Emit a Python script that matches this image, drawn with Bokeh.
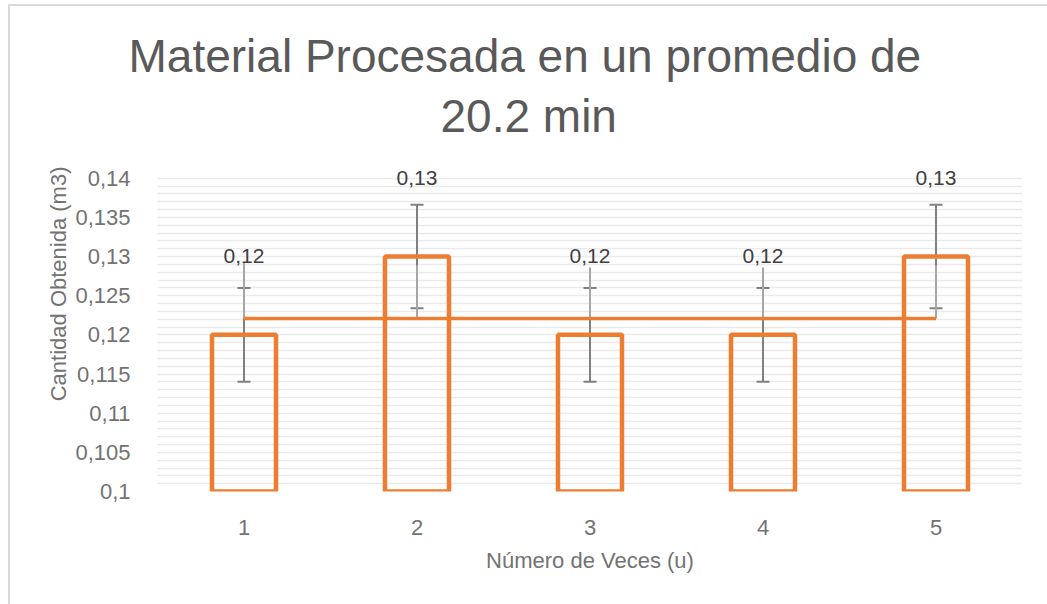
import numpy as np
from bokeh.plotting import figure
from bokeh.models import (ColumnDataSource, FixedTicker, Title, Whisker, TeeHead,
                          Range1d)
from bokeh.core.properties import value
from bokeh.embed import file_html
from bokeh.resources import INLINE

# ---- data ----
categories = [1, 2, 3, 4, 5]
cat_labels = ["1", "2", "3", "4", "5"]
values = [0.12, 0.13, 0.12, 0.12, 0.13]
err = [0.006, 0.0066, 0.006, 0.006, 0.0066]
avg_line = [0.1221, 0.1221, 0.1221, 0.1221, 0.1221]
avg_err_up = [0.0072, 0.0068, 0.0065, 0.0065, 0.0068]
data_labels = ["0,12", "0,13", "0,12", "0,12", "0,13"]
y_ticks = [0.1, 0.105, 0.11, 0.115, 0.12, 0.125, 0.13, 0.135, 0.14]
y_tick_labels = ["0,1", "0,105", "0,11", "0,115", "0,12", "0,125", "0,13", "0,135", "0,14"]
title_lines = ["Material Procesada en un promedio de", "20.2 min"]
x_title = "Número de Veces (u)"
y_title = "Cantidad Obtenida (m3)"

FONT = "Liberation Sans"
ORANGE = "#ED7D31"

src = ColumnDataSource(dict(
    x=categories, top=values,
    lo=[v - e for v, e in zip(values, err)],
    hi=[v + e for v, e in zip(values, err)],
    avg=avg_line,
    avg_hi=[a + e for a, e in zip(avg_line, avg_err_up)],
    lab=data_labels,
    lab_y=[v + 0.0092 for v in values],
))

p = figure(width=1047, height=604, output_backend="svg", toolbar_location=None,
           x_range=Range1d(0.5, 5.5), y_range=Range1d(0.1, 0.1415))
p.title.visible = False
p.min_border_left = 157
p.min_border_right = 25
p.min_border_top = 166
p.min_border_bottom = 113
p.outline_line_color = None
p.background_fill_color = "white"
p.border_fill_color = None
# chart-area border (left and top edges) drawn behind the transparent canvas
p.styles = {
    "background-color": "white",
    "background-image": "linear-gradient(#d9d9d9, #d9d9d9), linear-gradient(#d9d9d9, #d9d9d9)",
    "background-size": "2px 100%, 100% 2px",
    "background-position": "8px 4px, 8px 4px",
    "background-repeat": "no-repeat",
}

# grid
p.xgrid.grid_line_color = None
p.ygrid.ticker = FixedTicker(ticks=list(np.round(np.arange(0.1, 0.1405, 0.001), 4)))
p.ygrid.grid_line_color = "#eaeaea"
p.ygrid.grid_line_width = 1.5

# axes
for ax in (p.xaxis[0], p.yaxis[0]):
    ax.axis_line_color = None
    ax.major_tick_line_color = None
    ax.minor_tick_line_color = None
    ax.major_label_text_font = FONT
    ax.major_label_text_font_size = "22px"
    ax.major_label_text_color = "#737373"

p.yaxis.ticker = FixedTicker(ticks=y_ticks)
p.yaxis.major_label_overrides = {t: l for t, l in zip(y_ticks, y_tick_labels)}
p.yaxis.major_label_standoff = 21

p.xaxis.ticker = FixedTicker(ticks=categories)
p.xaxis.major_label_overrides = {c: l for c, l in zip(categories, cat_labels)}
p.xaxis.major_label_standoff = 22
p.xaxis.axis_label = x_title
p.xaxis.axis_label_text_font = FONT
p.xaxis.axis_label_text_font_size = "22px"
p.xaxis.axis_label_text_font_style = "normal"
p.xaxis.axis_label_text_color = "#737373"
p.xaxis.axis_label_standoff = 10

# y axis title as a side title (positioned along the axis)
p.add_layout(Title(text=y_title, align="right", offset=0, standoff=4,
                   text_font=FONT, text_font_size="22px", text_font_style="normal",
                   text_color="#737373"), "left")

# bars
p.vbar(x="x", top="top", bottom=0.1, width=0.37, source=src,
       fill_color=None, line_color=ORANGE, line_width=4.5)

# bar error bars
p.add_layout(Whisker(base="x", lower="lo", upper="hi", source=src,
                     line_color="#808080", line_width=2,
                     upper_head=TeeHead(size=13, line_color="#808080", line_width=2),
                     lower_head=TeeHead(size=13, line_color="#808080", line_width=2)))

# average line error (upward, no caps)
p.segment(x0="x", y0="avg", x1="x", y1="avg_hi", source=src,
          line_color="#a6a6a6", line_width=2)

# average line
p.line(x="x", y="avg", source=src, line_color=ORANGE, line_width=3.5)

# data labels
p.text(x="x", y="lab_y", text="lab", source=src, text_align="center",
       text_baseline="bottom", text_font=value(FONT), text_font_size="21px",
       text_color="#404040")

# chart title, two lines
p.add_layout(Title(text=title_lines[1], align="left", offset=283, standoff=50,
                   text_font=FONT, text_font_size="46px", text_font_style="normal",
                   text_color="#595959"), "above")
p.add_layout(Title(text=title_lines[0], align="left", offset=-29, standoff=-38,
                   text_font=FONT, text_font_size="46px", text_font_style="normal",
                   text_color="#595959"), "above")

open("out.html", "w").write(file_html(p, INLINE))
